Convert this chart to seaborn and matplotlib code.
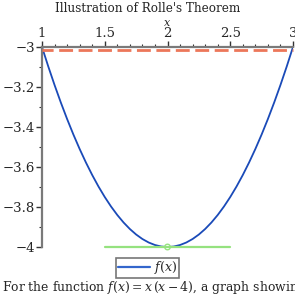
"""
Rolle's theorem illustration for f(x) = x (x - 4) on [1, 3].
Axes cross at the top-left corner, Sage-like styling.
"""
import numpy as np
import matplotlib.pyplot as plt
import matplotlib as mpl
import matplotlib.transforms as mtransforms
from matplotlib.ticker import MultipleLocator
import seaborn as sns

# ----------------------------------------------------------------------
# Data
# ----------------------------------------------------------------------
x_vals = [1.00, 1.05, 1.10, 1.15, 1.20, 1.25, 1.30, 1.35, 1.40, 1.45,
          1.50, 1.55, 1.60, 1.65, 1.70, 1.75, 1.80, 1.85, 1.90, 1.95,
          2.00, 2.05, 2.10, 2.15, 2.20, 2.25, 2.30, 2.35, 2.40, 2.45,
          2.50, 2.55, 2.60, 2.65, 2.70, 2.75, 2.80, 2.85, 2.90, 2.95, 3.00]
f_vals = [-3.0, -3.0975, -3.19, -3.2775, -3.36, -3.4375, -3.51, -3.5775, -3.64, -3.6975,
          -3.75, -3.7975, -3.84, -3.8775, -3.91, -3.9375, -3.96, -3.9775, -3.99, -3.9975,
          -4.0, -3.9975, -3.99, -3.9775, -3.96, -3.9375, -3.91, -3.8775, -3.84, -3.7975,
          -3.75, -3.6975, -3.64, -3.5775, -3.51, -3.4375, -3.36, -3.2775, -3.19, -3.0975, -3.0]

secant_x = [1.0, 3.0]
secant_y = [-3.0, -3.0]

tangent_x = [1.5, 2.5]
tangent_y = [-4.0, -4.0]

crit_x = [2.0]
crit_y = [-4.0]

x_ticks = [1, 1.5, 2, 2.5, 3]
x_ticklabels = ["1", "1.5", "2", "2.5", "3"]
y_ticks = [-3, -3.2, -3.4, -3.6, -3.8, -4]
y_ticklabels = ["\u22123", "\u22123.2", "\u22123.4", "\u22123.6", "\u22123.8", "\u22124"]

# ----------------------------------------------------------------------
# Style
# ----------------------------------------------------------------------
sns.set_style("white")
mpl.rcParams.update({
    "font.family": ["DejaVu Serif"],
    "mathtext.fontset": "dejavuserif",
})

fig = plt.figure(figsize=(2.95, 2.95), dpi=100)
fig.patch.set_facecolor("white")
ax = fig.add_axes([42 / 295, 1 - 247 / 295, 251 / 295, 200 / 295])

sns.lineplot(x=x_vals, y=f_vals, ax=ax, color="#1a4ab8", linewidth=1.3,
             label="$f(x)$", sort=False)
sns.lineplot(x=secant_x, y=secant_y, ax=ax, color="#ec775a", linewidth=2.0,
             linestyle=(1.0, (5.0, 2.0)), legend=False, clip_on=False, zorder=4)
# shift the dashed secant just below the top spine so it stays visible
secant_line = ax.get_lines()[-1]
secant_line.set_transform(mtransforms.offset_copy(ax.transData, fig=fig,
                                                  y=-2.5, units="dots"))
sns.lineplot(x=tangent_x, y=tangent_y, ax=ax, color="#95e27f", linewidth=1.6,
             legend=False, clip_on=False)
sns.scatterplot(x=crit_x, y=crit_y, ax=ax, s=16, facecolor="none",
                edgecolor="#95e27f", linewidth=1.0, legend=False, zorder=5,
                clip_on=False)

ax.set_xlim(1, 3)
ax.set_ylim(-4, -3)

# axes crossing at (1, -3): only top and left spines
for side in ("right", "bottom"):
    ax.spines[side].set_visible(False)
for side in ("top", "left"):
    ax.spines[side].set_color("#7a7a7a")
    ax.spines[side].set_linewidth(1.6)

ax.xaxis.set_ticks_position("top")
ax.xaxis.set_label_position("top")
ax.set_xticks(x_ticks)
ax.set_xticklabels(x_ticklabels)
ax.xaxis.set_minor_locator(MultipleLocator(0.1))
ax.set_yticks(y_ticks)
ax.set_yticklabels(y_ticklabels)
ax.yaxis.set_minor_locator(MultipleLocator(0.1))

ax.tick_params(which="major", direction="out", length=4, width=1.0,
               color="#333333", labelsize=9.5, pad=1)
ax.tick_params(which="minor", direction="out", length=2, width=0.8,
               color="#333333")
ax.tick_params(axis="x", which="both", top=True, bottom=False)
ax.tick_params(axis="y", which="both", left=True, right=False)

ax.set_xlabel("$x$", fontsize=8, labelpad=1)
fig.text(0.5, 1 - 8 / 295, "Illustration of Rolle's Theorem",
         fontsize=8.6, ha="center", va="center")

leg = ax.legend(loc="upper center", bbox_to_anchor=(0.42, -0.04),
                fontsize=9, frameon=True, fancybox=False,
                handlelength=2.6, borderpad=0.15, handletextpad=0.3,
                borderaxespad=0.2)
leg.get_frame().set_edgecolor("#555555")
leg.get_frame().set_linewidth(1.2)
for line in leg.get_lines():
    line.set_color("#3366cc")
    line.set_linewidth(1.6)

fig.text(2 / 295, 1 - 291 / 295,
         "For the function $f(x) = x\\,(x - 4)$, a graph showing the "
         "horizontal tangent at $x = 2$",
         fontsize=8.9, ha="left", va="baseline")

fig.savefig("out.png", dpi=100, facecolor="white")
plt.close(fig)
